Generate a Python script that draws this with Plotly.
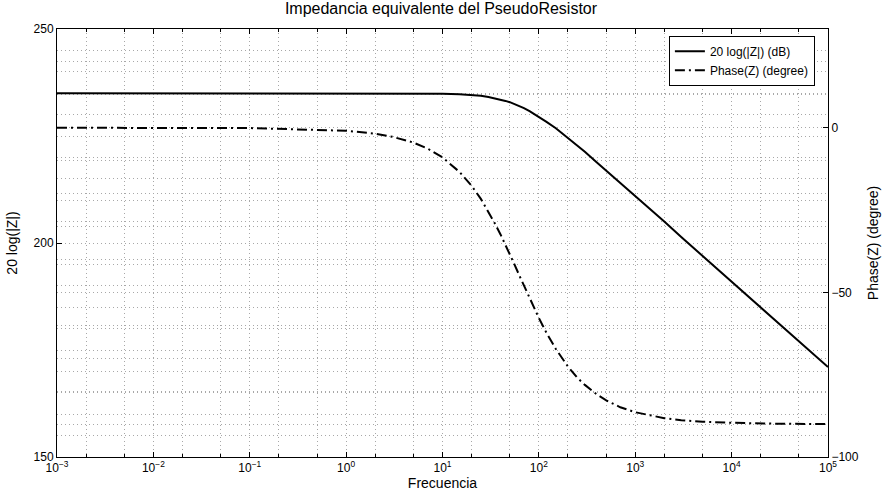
import plotly.graph_objects as go

# Frequencies (Hz) and values
freq = [1e-3, 1e-2, 1e-1, 1, 2, 3, 5, 7, 10, 15, 20, 25, 30, 35, 40, 45, 50, 55,
        63, 70, 80, 100, 120, 150, 200, 250, 300, 400, 500, 700, 1000, 2000,
        3000, 5000, 1e4, 3e4, 1e5]
mag_db = [235, 235, 235, 235, 235, 235, 234.97, 234.95, 234.9, 234.75, 234.6,
          234.4, 234.1, 233.8, 233.6, 233.2, 232.9, 232.5, 232.0, 231.5, 230.8,
          229.5, 228.3, 226.8, 224.6, 222.8, 221.3, 218.8, 216.9, 214.0, 211.0,
          205.0, 201.4, 197.0, 191.0, 181.4, 171.0]
phase_deg = [0, -0.01, -0.09, -0.91, -1.8, -2.7, -4.5, -6.3, -9.0, -13.4, -17.6,
             -21.6, -25.5, -29.1, -32.4, -35.5, -38.4, -41.1, -45.0, -48.0, -51.8,
             -57.8, -62.3, -67.2, -72.5, -75.9, -78.1, -81.0, -82.8, -84.9, -86.4,
             -88.2, -88.8, -89.3, -89.6, -89.9, -90.0]

decades = [1e-3, 1e-2, 1e-1, 1, 10, 100, 1e3, 1e4, 1e5]
decade_labels = ['10<sup>−3</sup>', '10<sup>−2</sup>', '10<sup>−1</sup>', '10<sup>0</sup>',
                 '10<sup>1</sup>', '10<sup>2</sup>', '10<sup>3</sup>', '10<sup>4</sup>',
                 '10<sup>5</sup>']

font = dict(family='Liberation Sans, Arial, sans-serif', size=12, color='black')
grid_col = '#a8a8a8'
grid_dash = '1px,3px'

fig = go.Figure()

fig.add_trace(go.Scatter(x=freq, y=mag_db, mode='lines',
                         line=dict(color='black', width=2),
                         name='20 log(|Z|) (dB)'))

fig.add_trace(go.Scatter(x=freq, y=phase_deg, mode='lines',
                         line=dict(color='black', width=2, dash='10px,4px,2px,4px'),
                         name='Phase(Z) (degree)', yaxis='y2'))

fig.update_layout(
    width=882, height=493,
    margin=dict(l=57, r=54, t=29, b=36),
    paper_bgcolor='white', plot_bgcolor='white',
    font=font,
    title=dict(text='Impedancia equivalente del PseudoResistor', x=0.5, xanchor='center',
               y=0.994, yanchor='top', font=dict(size=16)),
    showlegend=True,
    legend=dict(x=0.983, y=0.984, xanchor='right', yanchor='top',
                bgcolor='white', bordercolor='black', borderwidth=1,
                font=dict(size=12), tracegroupgap=0),
    xaxis=dict(type='log', range=[-3, 5], tickvals=decades, ticktext=decade_labels,
               showline=True, linecolor='black', linewidth=1, mirror='ticks',
               ticks='inside', ticklen=5, tickcolor='black', automargin=False,
               showgrid=True, gridcolor=grid_col, griddash=grid_dash, gridwidth=1,
               minor=dict(ticks='inside', ticklen=3, tickcolor='black',
                          showgrid=True, gridcolor=grid_col, griddash=grid_dash),
               title=dict(text='Frecuencia', standoff=0, font=dict(size=14)),
               zeroline=False),
    yaxis=dict(range=[150, 250], tickvals=[150, 200, 250],
               showline=True, linecolor='black', linewidth=1, mirror=True,
               ticks='inside', ticklen=5, tickcolor='black', automargin=False,
               showgrid=True, gridcolor=grid_col, griddash=grid_dash,
               minor=dict(dtick=5, showgrid=True, gridcolor=grid_col, griddash=grid_dash),
               title=dict(text='20 log(|Z|)', standoff=12, font=dict(size=14)),
               zeroline=False),
    yaxis2=dict(range=[-100, 30], tickvals=[-100, -50, 0], overlaying='y', side='right',
                showline=True, linecolor='black', linewidth=1,
                ticks='inside', ticklen=5, tickcolor='black', automargin=False,
                showgrid=True, gridcolor=grid_col, griddash=grid_dash,
                minor=dict(dtick=10, showgrid=True, gridcolor=grid_col, griddash=grid_dash),
                title=dict(text='Phase(Z) (degree)', standoff=10, font=dict(size=14)),
                zeroline=False),
)

# drop the page's default 8px body margin so the figure sits at the window corner
fig.write_html("out.html", config={'displayModeBar': False},
               post_script="document.body.style.margin='0';")
